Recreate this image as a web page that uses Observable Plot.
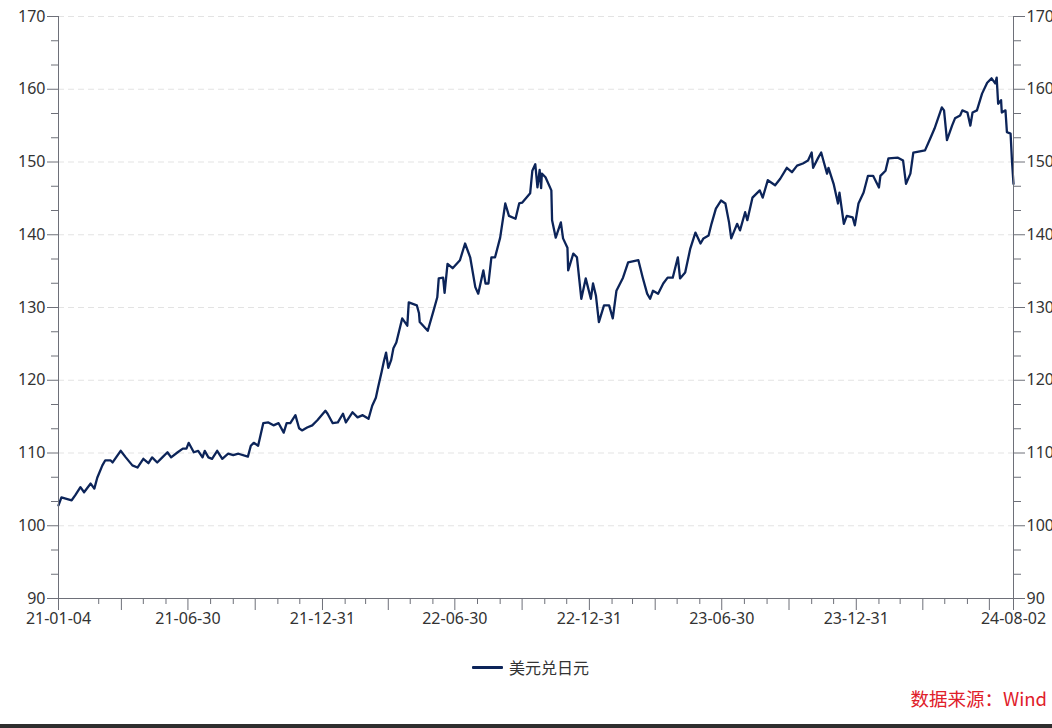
<!DOCTYPE html>
<html>
<head>
<meta charset="utf-8">
<script src="https://cdn.jsdelivr.net/npm/d3@7"></script>
<script src="https://cdn.jsdelivr.net/npm/@observablehq/plot@0.6"></script>
<style>
  html, body { margin: 0; padding: 0; background: #fff; }
  body { width: 1052px; height: 728px; overflow: hidden; position: relative;
         font-family: "Noto Sans CJK SC", "Noto Sans", sans-serif; }
  #chart { position: absolute; left: 0; top: 0; }
  #legend { position: absolute; left: 472px; top: 655px; height: 24px; display: flex; align-items: center;
            font-size: 16px; color: #333; }
  #legend .swatch { width: 31px; height: 3px; background: #0c2459; margin-right: 6px; border-radius: 1px; }
  #source { position: absolute; right: 5px; top: 685px; font-size: 18.5px; color: #e0202a; line-height: 26px; }
  #strip { position: absolute; left: 0; top: 724px; width: 1052px; height: 4px; background: #2e2e2e; }
</style>
</head>
<body>
<div id="chart"></div>
<div id="legend"><div class="swatch"></div><span id="legendText"></span></div>
<div id="source"></div>
<div id="strip"></div>
<script>
const seriesName = "美元兑日元";
const sourceText = "数据来源：Wind";

const dates = [
  "2021-01-04","2021-01-08","2021-01-15","2021-01-22","2021-01-27","2021-02-03","2021-02-08","2021-02-17","2021-02-22","2021-02-26",
  "2021-03-05","2021-03-09","2021-03-16","2021-03-19","2021-03-30","2021-04-06","2021-04-15","2021-04-22","2021-04-30","2021-05-07",
  "2021-05-12","2021-05-19","2021-05-26","2021-06-02","2021-06-07","2021-06-16","2021-06-23","2021-06-28","2021-07-01","2021-07-08",
  "2021-07-14","2021-07-20","2021-07-23","2021-07-28","2021-08-02","2021-08-09","2021-08-16","2021-08-24","2021-08-31","2021-09-07",
  "2021-09-20","2021-09-24","2021-09-28","2021-10-04","2021-10-11","2021-10-18","2021-10-25","2021-11-01","2021-11-08","2021-11-12",
  "2021-11-17","2021-11-24","2021-11-29","2021-12-03","2021-12-10","2021-12-17","2021-12-24","2022-01-04","2022-01-07","2022-01-14",
  "2022-01-21","2022-01-28","2022-02-01","2022-02-10","2022-02-17","2022-02-24","2022-03-04","2022-03-09","2022-03-14","2022-03-17",
  "2022-03-22","2022-03-25","2022-03-28","2022-03-31","2022-04-04","2022-04-07","2022-04-11","2022-04-19","2022-04-26","2022-04-28",
  "2022-05-09","2022-05-12","2022-05-13","2022-05-24","2022-06-01","2022-06-06","2022-06-08","2022-06-14","2022-06-16","2022-06-20",
  "2022-06-27","2022-07-07","2022-07-14","2022-07-21","2022-07-28","2022-08-01","2022-08-08","2022-08-11","2022-08-15","2022-08-19",
  "2022-08-24","2022-08-31","2022-09-07","2022-09-12","2022-09-21","2022-09-26","2022-09-30","2022-10-11","2022-10-14","2022-10-18",
  "2022-10-21","2022-10-24","2022-10-26","2022-10-27","2022-11-01","2022-11-09","2022-11-10","2022-11-15","2022-11-22","2022-11-25",
  "2022-12-01","2022-12-02",
  "2022-12-09","2022-12-14","2022-12-20","2022-12-26","2023-01-02","2023-01-05","2023-01-09","2023-01-13","2023-01-20","2023-01-27",
  "2023-02-01","2023-02-06","2023-02-15","2023-02-22","2023-03-08","2023-03-14","2023-03-20","2023-03-24","2023-03-28","2023-04-04",
  "2023-04-11","2023-04-17","2023-04-24","2023-05-01","2023-05-04","2023-05-11","2023-05-18","2023-05-25","2023-06-01","2023-06-05",
  "2023-06-12","2023-06-16","2023-06-22","2023-06-29","2023-07-05","2023-07-10","2023-07-13","2023-07-21","2023-07-25","2023-08-01",
  "2023-08-04","2023-08-11","2023-08-21","2023-08-25","2023-09-01","2023-09-11","2023-09-18","2023-09-27","2023-10-04","2023-10-11",
  "2023-10-19","2023-10-26","2023-10-31","2023-11-02","2023-11-09","2023-11-13","2023-11-16","2023-11-21","2023-11-23","2023-11-30",
  "2023-12-06","2023-12-08","2023-12-14","2023-12-18","2023-12-26","2023-12-29","2024-01-03","2024-01-10","2024-01-16","2024-01-23",
  "2024-01-31","2024-02-02","2024-02-09","2024-02-13","2024-02-26","2024-03-04","2024-03-08","2024-03-14","2024-03-18","2024-04-03",
  "2024-04-10","2024-04-16","2024-04-26","2024-04-29","2024-05-03","2024-05-10","2024-05-14","2024-05-21","2024-05-24","2024-05-31",
  "2024-06-04","2024-06-07","2024-06-13","2024-06-20","2024-06-27","2024-07-03","2024-07-08","2024-07-10","2024-07-12","2024-07-16",
  "2024-07-17","2024-07-22","2024-07-24","2024-07-29","2024-07-31","2024-08-02"
];

const rates = [
  102.8,103.9,103.7,103.5,104.2,105.3,104.6,105.8,105.1,106.6,
  108.3,109.0,109.0,108.7,110.3,109.4,108.3,108.0,109.2,108.6,
  109.4,108.7,109.4,110.1,109.4,110.1,110.6,110.6,111.4,110.1,
  110.3,109.4,110.3,109.4,109.2,110.3,109.2,109.9,109.7,109.9,
  109.5,111.0,111.4,111.0,114.1,114.2,113.8,114.1,112.8,114.1,
  114.1,115.2,113.4,113.1,113.5,113.8,114.5,115.8,115.4,114.1,
  114.2,115.4,114.2,115.6,114.9,115.2,114.7,116.5,117.6,119.0,
  121.2,122.6,123.8,121.7,122.8,124.4,125.2,128.5,127.5,130.7,
  130.3,129.2,128.0,126.8,129.6,131.4,134.0,134.1,132.0,136.0,
  135.4,136.5,138.8,136.9,132.8,131.9,135.1,133.3,133.3,136.9,
  136.9,139.6,144.3,142.6,142.2,144.3,144.4,145.7,148.8,149.7,
  146.5,148.9,146.4,148.4,147.9,146.1,142.0,139.6,141.7,139.5,
  138.2,135.1,
  137.4,136.9,131.2,134.0,131.2,133.3,131.6,128.0,130.3,130.3,
  128.5,132.3,134.1,136.2,136.5,134.1,131.9,131.2,132.3,131.9,
  133.3,134.1,134.1,136.9,134.0,134.8,138.1,140.3,138.8,139.5,
  139.9,141.5,143.6,144.7,144.3,141.7,139.5,141.5,140.6,143.1,
  142.0,145.1,146.1,145.1,147.5,146.8,147.7,149.2,148.6,149.5,
  149.8,150.2,151.3,149.2,150.6,151.3,150.2,148.4,149.2,147.0,
  144.3,145.8,141.5,142.6,142.4,141.3,144.3,145.8,148.1,148.1,
  146.5,148.1,148.8,150.5,150.6,150.2,147.0,148.4,151.3,151.6,
  153.2,154.6,157.5,157.1,153.0,155.0,156.0,156.4,157.1,156.8,
  155.0,156.8,157.1,159.4,160.9,161.5,160.8,161.6,158.0,158.5,
  156.8,157.1,154.1,153.9,150.0,147.0
];

const yTicks = [90, 100, 110, 120, 130, 140, 150, 160, 170];
const xLabelDates = ["2021-01-04","2021-06-30","2021-12-31","2022-06-30","2022-12-31","2023-06-30","2023-12-31","2024-08-02"];

document.getElementById("legendText").textContent = seriesName;
document.getElementById("source").textContent = sourceText;

const parse = d3.utcParse("%Y-%m-%d");
const rows = dates.map((d, i) => ({date: parse(d), rate: rates[i]}));
const x0 = parse(xLabelDates[0]);
const x1 = parse(xLabelDates[xLabelDates.length - 1]);

// minor y ticks: three divisions between labelled ticks
const yMinor = [];
for (let i = 0; i < yTicks.length - 1; i++) {
  const step = (yTicks[i + 1] - yTicks[i]) / 3;
  yMinor.push(yTicks[i] + step, yTicks[i] + 2 * step);
}
const yGrid = yTicks.slice(1);

// month-end ticks, longer at quarter ends
const monthEnds = d3.utcMonth.range(d3.utcMonth.offset(x0, 1), x1)
  .map(d => d3.utcDay.offset(d, -1))
  .filter(d => d > x0 && d < d3.utcDay.offset(x1, -5));
const quarterEnds = monthEnds.filter(d => (d.getUTCMonth() + 1) % 3 === 0).concat([x0, x1]);
const shortTicks = monthEnds.filter(d => (d.getUTCMonth() + 1) % 3 !== 0);
const fmt = d3.utcFormat("%y-%m-%d");

const axisColor = "#6e7079";
const textColor = "#333";
const axisFont = '"Noto Sans", "Noto Sans CJK SC", sans-serif';

const chart = Plot.plot({
  width: 1052,
  height: 640,
  marginLeft: 58,
  marginRight: 39,
  marginTop: 16,
  marginBottom: 42,
  style: {fontFamily: axisFont, fontSize: "16px", color: textColor, background: "#fff"},
  x: {type: "utc", domain: [x0, x1]},
  y: {domain: [90, 170]},
  marks: [
    Plot.ruleY(yGrid, {stroke: "#e3e3e3", strokeDasharray: "6,4"}),
    Plot.line(rows, {x: "date", y: "rate", stroke: "#0c2459", strokeWidth: 2.3}),
    Plot.ruleX([x0], {stroke: axisColor}),
    Plot.ruleX([x1], {stroke: axisColor}),
    Plot.ruleY([90], {stroke: axisColor}),
    // left axis
    Plot.axisY({anchor: "left", ticks: yTicks, tickSize: 11, text: null, label: null, stroke: axisColor}),
    Plot.axisY({anchor: "left", ticks: yMinor, tickSize: 7, text: null, label: null, stroke: axisColor}),
    Plot.axisY({anchor: "left", ticks: yTicks, tickSize: 0, tickPadding: 13, label: null, fill: textColor, fontSize: 16, tickFormat: d => String(d)}),
    // right axis
    Plot.axisY({anchor: "right", ticks: yTicks, tickSize: 11, text: null, label: null, stroke: axisColor}),
    Plot.axisY({anchor: "right", ticks: yMinor, tickSize: 7, text: null, label: null, stroke: axisColor}),
    Plot.axisY({anchor: "right", ticks: yTicks, tickSize: 0, tickPadding: 13, label: null, fill: textColor, fontSize: 16, tickFormat: d => String(d)}),
    // bottom axis
    Plot.axisX({ticks: shortTicks, tickSize: 6, text: null, label: null, stroke: axisColor}),
    Plot.axisX({ticks: quarterEnds, tickSize: 12, text: null, label: null, stroke: axisColor}),
    Plot.axisX({ticks: xLabelDates.map(parse), tickSize: 0, tickPadding: 14, label: null, fill: textColor, fontSize: 16, tickFormat: fmt})
  ]
});
document.getElementById("chart").appendChild(chart);
</script>
</body>
</html>
